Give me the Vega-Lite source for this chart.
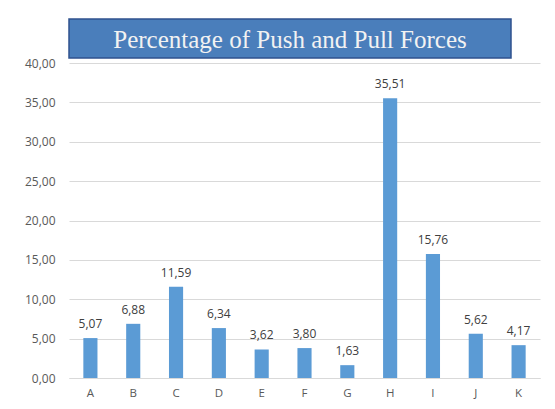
{
  "$schema": "https://vega.github.io/schema/vega-lite/v6.json",
  "padding": {"left": 24, "top": 18, "right": 10, "bottom": 5},
  "background": "white",
  "bounds": "flush",
  "spacing": 5,
  "config": {
    "locale": {"number": {"decimal": ",", "thousands": ".", "grouping": [3], "currency": ["", " €"]}},
    "view": {"stroke": null},
    "font": "Open Sans"
  },
  "datasets": {
    "title": [{"t": "Percentage of Push and Pull Forces"}],
    "bars": [
      {"cat": "A", "value": 5.07},
      {"cat": "B", "value": 6.88},
      {"cat": "C", "value": 11.59},
      {"cat": "D", "value": 6.34},
      {"cat": "E", "value": 3.62},
      {"cat": "F", "value": 3.80},
      {"cat": "G", "value": 1.63},
      {"cat": "H", "value": 35.51},
      {"cat": "I", "value": 15.76},
      {"cat": "J", "value": 5.62},
      {"cat": "K", "value": 4.17}
    ]
  },
  "vconcat": [
    {
      "width": 442,
      "height": 39,
      "data": {"name": "title"},
      "layer": [
        {
          "mark": {"type": "rect", "fill": "#4a7ebb", "stroke": "#2f528f", "strokeWidth": 1.5},
          "encoding": {
            "x": {"field": "t", "type": "nominal", "axis": null, "scale": {"paddingInner": 0, "paddingOuter": 0}},
            "y": {"field": "t", "type": "nominal", "axis": null, "scale": {"paddingInner": 0, "paddingOuter": 0}}
          }
        },
        {
          "mark": {"type": "text", "font": "Liberation Serif", "fontSize": 25, "color": "#f2f2f2", "align": "center", "baseline": "middle", "dy": 1},
          "encoding": {
            "x": {"field": "t", "type": "nominal", "axis": null},
            "y": {"field": "t", "type": "nominal", "axis": null},
            "text": {"field": "t"}
          }
        }
      ]
    },
    {
      "width": 471,
      "height": 315,
      "data": {"name": "bars"},
      "encoding": {
        "x": {
          "field": "cat", "type": "nominal", "title": null,
          "scale": {"paddingInner": 0.67, "paddingOuter": 0.335},
          "axis": {"labelAngle": 0, "ticks": false, "domainColor": "#d9d9d9", "labelColor": "#595959", "labelFontSize": 11.5, "labelPadding": 9, "labelFont": "Open Sans"}
        },
        "y": {
          "field": "value", "type": "quantitative", "title": null,
          "scale": {"domain": [0, 40], "nice": false},
          "axis": {"values": [0, 5, 10, 15, 20, 25, 30, 35, 40], "format": ".2f", "domain": false, "ticks": false, "gridColor": "#d9d9d9", "labelColor": "#595959", "labelFontSize": 12, "labelPadding": 14, "labelFont": "Open Sans"}
        }
      },
      "layer": [
        {"mark": {"type": "bar", "color": "#5b9bd5"}},
        {
          "mark": {"type": "text", "baseline": "bottom", "dy": -7, "fontSize": 12, "color": "#404040", "font": "Open Sans"},
          "encoding": {"text": {"field": "value", "type": "quantitative", "format": ".2f"}}
        }
      ]
    }
  ]
}
